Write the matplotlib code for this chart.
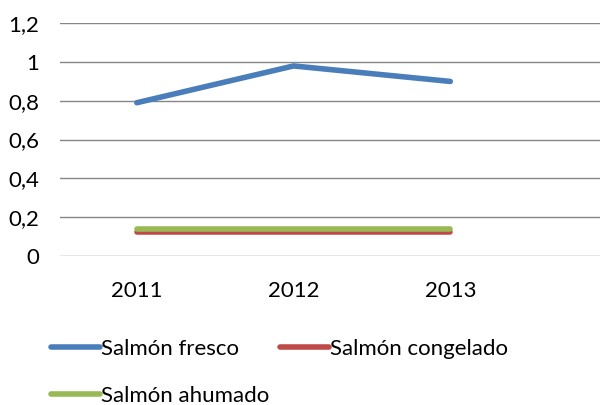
import matplotlib.pyplot as plt
from matplotlib.ticker import FuncFormatter

years = ["2011", "2012", "2013"]
fresco = [0.79, 0.98, 0.90]
congelado = [0.12, 0.12, 0.12]
ahumado = [0.14, 0.14, 0.14]

plt.rcParams["font.family"] = ["Lato", "DejaVu Sans"]

fig = plt.figure(figsize=(6, 4.05), dpi=100)
ax = fig.add_axes([0.1, 0.3686, 0.9, 0.5738])

x = range(len(years))
l1, = ax.plot(x, fresco, color="#4a7ebb", lw=4, solid_capstyle="round", label="Salmón fresco")
l2, = ax.plot(x, congelado, color="#be4b48", lw=4, solid_capstyle="round", label="Salmón congelado")
l3, = ax.plot(x, ahumado, color="#98b954", lw=4, solid_capstyle="round", label="Salmón ahumado")

ax.set_ylim(0, 1.2)
ax.set_xlim(-0.49, 2.955)
ax.set_yticks([0, 0.2, 0.4, 0.6, 0.8, 1.0, 1.2])
ax.yaxis.set_major_formatter(FuncFormatter(lambda v, p: f"{v:g}".replace(".", ",")))
ax.set_xticks(list(x))
ax.set_xticklabels(years)
ax.grid(axis="y", color="#868686", lw=1)
ax.set_axisbelow(True)
for s in ax.spines.values():
    s.set_visible(False)
ax.tick_params(length=0, labelsize=16, colors="black")
ax.tick_params(axis="y", pad=15)
ax.tick_params(axis="x", pad=18)

fig.legend([l1, l3, l2], [l1.get_label(), l3.get_label(), l2.get_label()],
           ncol=2, loc="upper left", bbox_to_anchor=(0.07, 0.185),
           frameon=False, fontsize=16, handlelength=2.2, handletextpad=0.05,
           columnspacing=0.5, labelspacing=1.2, borderaxespad=0)

fig.savefig("out.png", dpi=100)
